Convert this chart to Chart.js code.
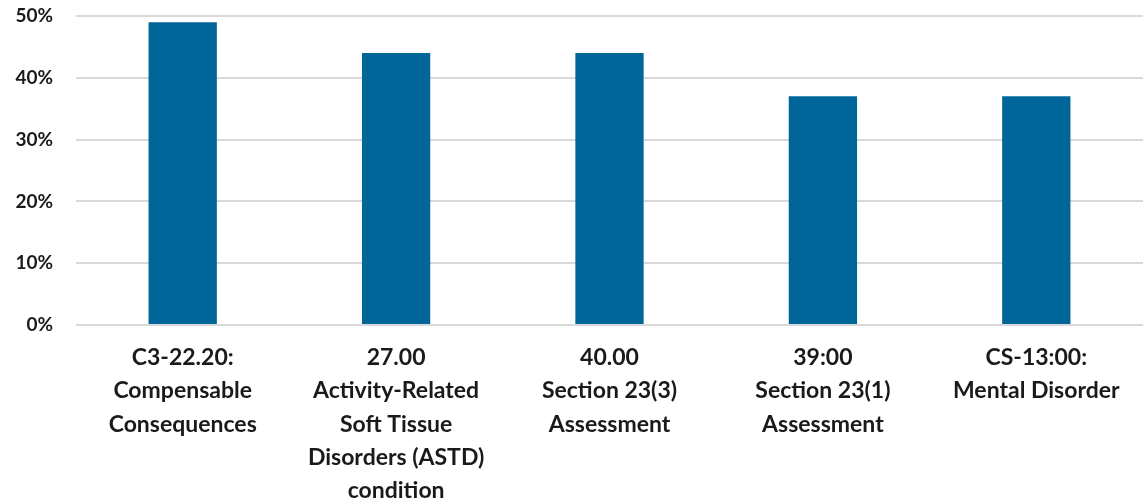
<!DOCTYPE html>
<html>
<head>
<meta charset="utf-8">
<script src="https://cdn.jsdelivr.net/npm/chart.js@4"></script>
<style>
html,body{margin:0;padding:0;background:#fff;}
#wrap{width:1143px;height:501px;position:relative;}
</style>
</head>
<body>
<div id="wrap"><canvas id="c"></canvas></div>
<script>
const categories = [
  ["C3-22.20:", "Compensable", "Consequences"],
  ["27.00", "Activity-Related", "Soft Tissue", "Disorders (ASTD)", "condition"],
  ["40.00", "Section 23(3)", "Assessment"],
  ["39:00", "Section 23(1)", "Assessment"],
  ["CS-13:00:", "Mental Disorder"]
];
const values = [49, 44, 44, 37, 37];
const yTicks = [0, 10, 20, 30, 40, 50];

new Chart(document.getElementById('c'), {
  type: 'bar',
  data: {
    labels: categories,
    datasets: [{
      data: values,
      backgroundColor: '#006699',
      categoryPercentage: 1,
      barPercentage: 0.32
    }]
  },
  options: {
    responsive: true,
    maintainAspectRatio: false,
    animation: false,
    layout: { padding: { top: 16, right: 0, left: 0, bottom: 0 } },
    plugins: { legend: { display: false }, tooltip: { enabled: false } },
    scales: {
      x: {
        grid: { display: false, drawTicks: false },
        border: { display: false },
        ticks: {
          color: '#1a1a1a',
          font: { family: 'Lato', size: 23, weight: 'bold', lineHeight: 1.45 },
          padding: 16,
          maxRotation: 0,
          autoSkip: false
        },
        afterFit: s => { s.height = 176; }
      },
      y: {
        min: 0, max: 50,
        afterBuildTicks: s => { s.ticks = yTicks.map(v => ({ value: v })); },
        grid: { color: '#d9d9d9', lineWidth: 2, drawTicks: true, tickLength: 23, tickColor: 'rgba(0,0,0,0)' },
        border: { display: false },
        ticks: {
          color: '#1a1a1a',
          font: { family: 'Lato', size: 19, weight: 'bold' },
          padding: 0,
          callback: v => v + '%'
        },
        afterFit: s => { s.width = 76; }
      }
    }
  }
});
</script>
</body>
</html>
